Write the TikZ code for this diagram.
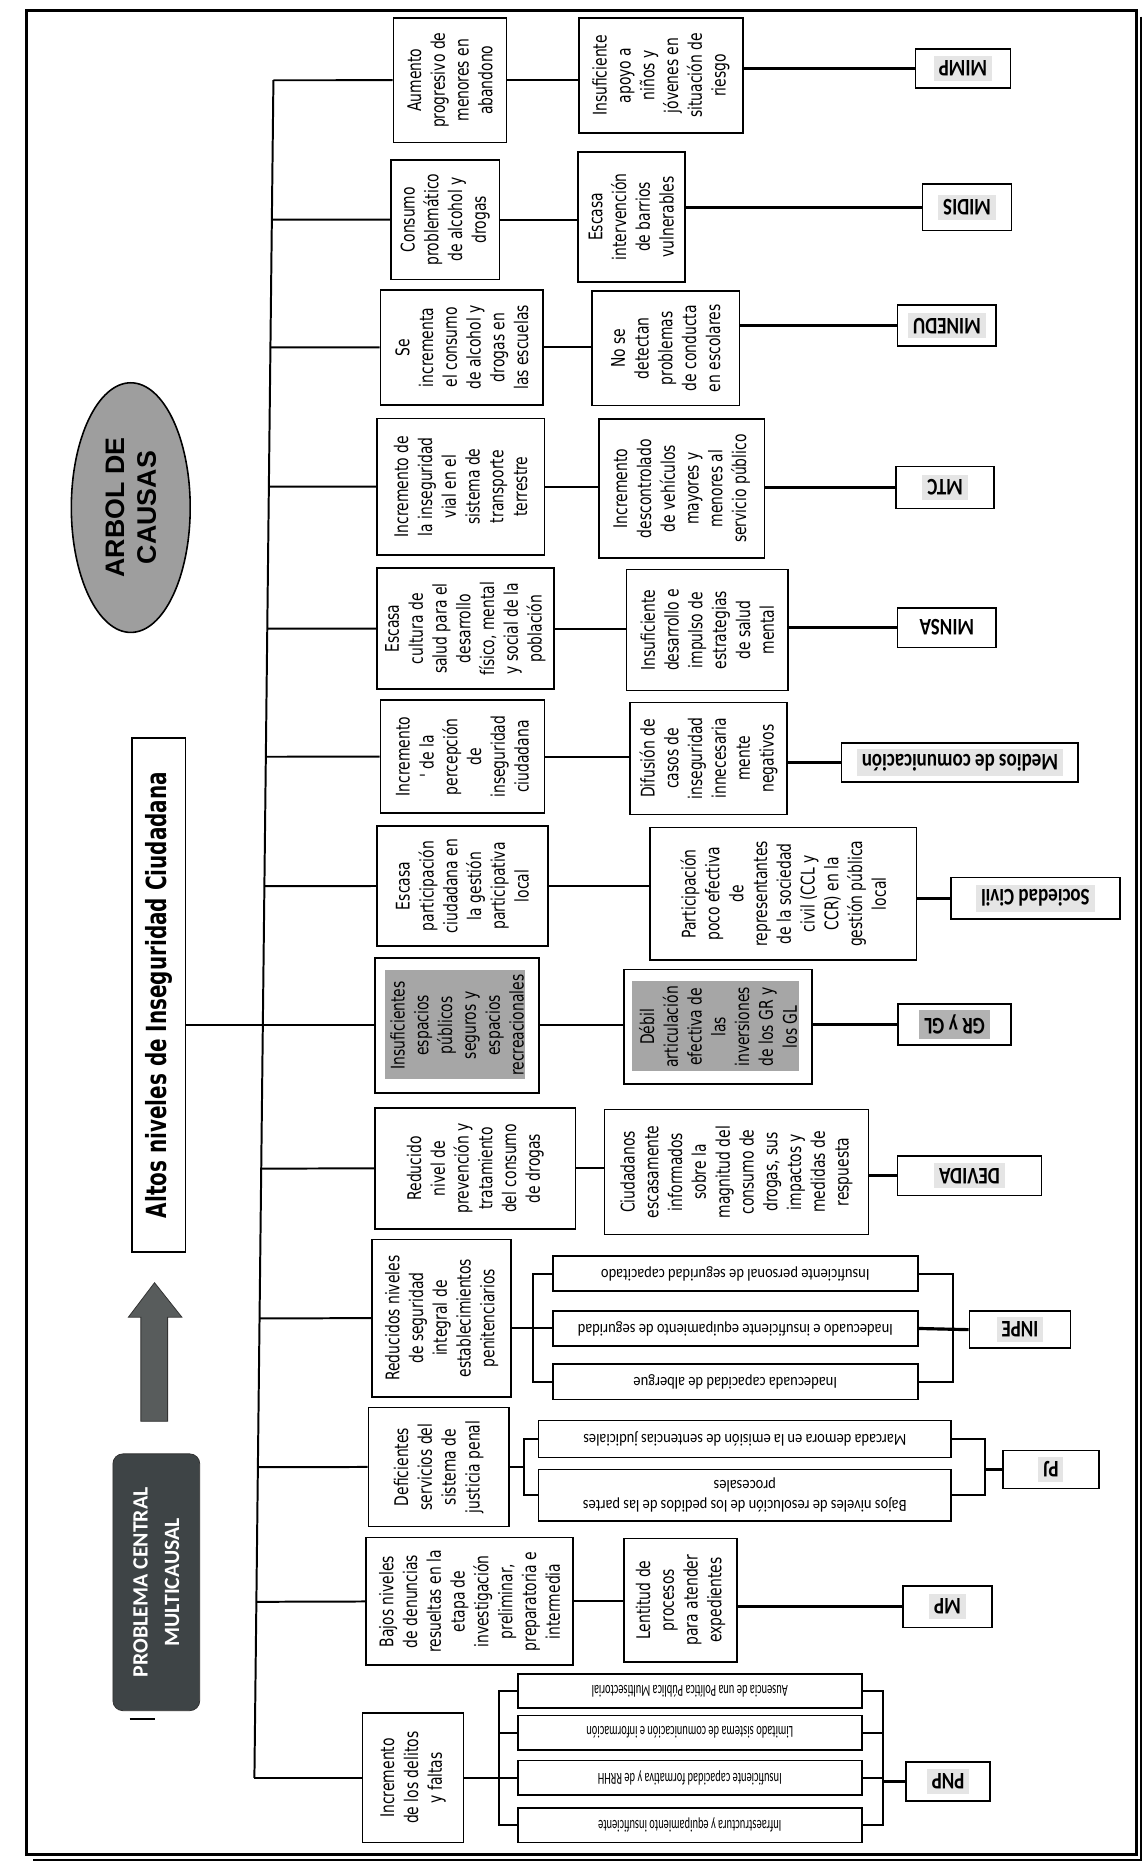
\documentclass[tikz,border=0pt]{standalone}
\usepackage{fontspec}
\setmainfont{DejaVu Sans}
\newfontfamily\boxfont{DejaVu Sans}[FakeStretch=0.74]
\newfontfamily\titlefont{DejaVu Sans}[FakeStretch=0.72]
\newfontfamily\tagfont{Carlito}[FakeStretch=0.8]
\newfontfamily\subfont{Carlito}[FakeStretch=0.86]
\newfontfamily\subfontn{Carlito}[FakeStretch=0.62]
\newfontfamily\arbolfont{Liberation Sans}
\newfontfamily\probfont{Carlito}
\usetikzlibrary{shapes.geometric}
\definecolor{probfill}{RGB}{62,68,70}
\definecolor{arrowfill}{RGB}{88,92,92}
\newcommand{\tagpatch}[2][black!10]{{\fboxsep=2.5pt\colorbox{#1}{#2}}}

\begin{document}
\begin{tikzpicture}[
	x=0.6pt, y=-0.6pt,
	cause/.style={ draw, line width=0.8pt, rotate=90, align=center, inner sep=1pt, font=\boxfont\fontsize{9.5}{12}\selectfont },
	vsz/.style 2 args={ minimum height=#1*0.6pt, minimum width=#2*0.6pt },
	hsz/.style 2 args={ minimum width=#1*0.6pt, minimum height=#2*0.6pt },
	tag/.style={ draw, line width=0.8pt, rotate=180, inner sep=1pt, font=\tagfont\bfseries\fontsize{12}{14}\selectfont },
	sub/.style={ draw, line width=0.8pt, rotate=180, align=center, inner sep=1pt, font=\subfont\fontsize{8.5}{10}\selectfont },
	subn/.style={ sub, font=\subfontn\fontsize{8.5}{10}\selectfont },
	link/.style={ line width=1pt },
	tagl/.style={ line width=1.6pt }
]
\useasboundingbox (0,0) rectangle (961,1568);

\draw[line width=1.6pt] (22,9) rectangle (956,1560);
\draw[line width=1pt] (960,14) -- (960,1565) -- (28,1565);

\node at (110,427) (arbol) [ellipse, draw, line width=0.8pt, fill=black!38, rotate=90, minimum width=210*0.6pt, minimum height=100*0.6pt, inner sep=0pt, align=center, font=\arbolfont\bfseries\fontsize{13.5}{16}\selectfont] {ARBOL DE\\CAUSAS};

\node at (133.5,837) (altos) [draw, line width=0.8pt, rotate=90, vsz={45}{432}, inner sep=1pt, font=\titlefont\bfseries\fontsize{14}{16}\selectfont] {Altos niveles de Inseguridad Ciudadana};

\fill[arrowfill, draw=black!80] (130,1079) -- (153,1108) -- (141,1108) -- (141,1195.6) -- (118.5,1195.6) -- (118.5,1108) -- (108,1108) -- cycle;

\node at (131.5,1331) (problema) [fill=probfill, draw=black!80, rounded corners=5pt, rotate=90, vsz={73}{216}, align=center, text=white, font=\probfont\bfseries\fontsize{11}{16}\selectfont] {PROBLEMA CENTRAL\\MULTICAUSAL};
\draw[line width=1.5pt] (109,1446) -- (130,1446);

\coordinate (ttop) at (230,67.5);
\coordinate (tbot) at (214,1495.5);
\draw[link] (ttop) to (tbot);

\node at (378.5,67.5) (r1a) [cause,vsz={95}{105}] {Aumento\\progresivo de\\menores en\\abandono};
\node at (556,63.5) (r1b) [cause,vsz={138}{97}] {Insuficiente\\apoyo a\\niños y\\jóvenes en\\situación de\\riesgo};
\node at (810,57.5) (mimp) [tag,hsz={80}{33}] {\tagpatch{MIMP}};
\draw[link] (r1a.north) to (intersection of ttop--tbot and r1a.north--r1a.center);
\draw[link] (r1a.south) to (r1a.south -| r1b.north);
\draw[tagl] (mimp.east) to (mimp.east -| r1b.south);

\node at (374.5,184.75) (r2a) [cause,vsz={91}{100.5}] {Consumo\\problemático\\de alcohol y\\drogas};
\node at (531,182.5) (r2b) [cause,vsz={90}{109}] {Escasa\\intervención\\de barrios\\vulnerables};
\node at (813.5,174.5) (midis) [tag,hsz={75}{39}] {\tagpatch{MIDIS}};
\draw[link] (r2a.north) to (intersection of ttop--tbot and r2a.north--r2a.center);
\draw[link] (r2a.south) to (r2a.south -| r2b.north);
\draw[tagl] (midis.east) to (midis.east -| r2b.south);

\node at (388.5,292.25) (r3a) [cause,vsz={137}{96.5}] {Se\\incrementa\\el consumo\\de alcohol y\\drogas en\\las escuelas};
\node at (560,293) (r3b) [cause,vsz={124}{96}] {No se\\detectan\\problemas\\de conducta\\en escolares};
\node at (796.5,274) (minedu) [tag,hsz={83}{34.5}] {\tagpatch{MINEDU}};
\draw[link] (r3a.north) to (intersection of ttop--tbot and r3a.north--r3a.center);
\draw[link] (r3a.south) to (r3a.south -| r3b.north);
\draw[tagl] (minedu.east) to (minedu.east -| r3b.south);

\node at (387.5,409.35) (r4a) [cause,vsz={141}{114.7}] {Incremento de\\la inseguridad\\vial en el\\sistema de\\transporte\\terrestre};
\node at (573.5,411) (r4b) [cause,vsz={139}{117}] {Incremento\\descontrolado\\de vehículos\\mayores y\\menores al\\servicio público};
\node at (795,410) (mtc) [tag,hsz={82.5}{35.5}] {\tagpatch{MTC}};
\draw[link] (r4a.north) to (intersection of ttop--tbot and r4a.north--r4a.center);
\draw[link] (r4a.south) to (r4a.south -| r4b.north);
\draw[tagl] (mtc.east) to (mtc.east -| r4b.south);

\node at (391.5,528.85) (r5a) [cause,vsz={149}{101.7}] {Escasa\\cultura de\\salud para el\\desarrollo\\físico, mental\\y social de la\\población};
\node at (595,530) (r5b) [cause,vsz={136}{102}] {Insuficiente\\desarrollo e\\impulso de\\estrategias\\de salud\\mental};
\node at (796.5,528) (minsa) [tag,hsz={83}{33.5}] {MINSA};
\draw[link] (r5a.north) to (intersection of ttop--tbot and r5a.north--r5a.center);
\draw[link] (r5a.south) to (r5a.south -| r5b.north);
\draw[tagl] (minsa.east) to (minsa.east -| r5b.south);

\node at (389,636.5) (r6a) [cause,vsz={138}{95}] {Incremento\\' de la\\percepción\\de\\inseguridad\\ciudadana};
\node at (596,638) (r6b) [cause,vsz={132}{94}] {Difusión de\\casos de\\inseguridad\\innecesaria\\mente\\negativos};
\node at (807.5,641.5) (medios) [tag,hsz={199}{33}] {\tagpatch{Medios de comunicación}};
\draw[link] (r6a.north) to (intersection of ttop--tbot and r6a.north--r6a.center);
\draw[link] (r6a.south) to (r6a.south -| r6b.north);
\draw[tagl] (medios.east) to (medios.east -| r6b.south);

\node at (389,745.3) (r7a) [cause,vsz={144}{101.4}] {Escasa\\participación\\ciudadana en\\la gestión\\participativa\\local};
\node at (659,751.85) (r7b) [cause,vsz={224}{111.7}] {Participación\\poco efectiva\\de\\representantes\\de la sociedad\\civil (CCL y\\CCR) en la\\gestión pública\\local};
\node at (871,755.5) (soccivil) [tag,hsz={142.5}{35}] {\tagpatch{Sociedad Civil}};
\draw[link] (r7a.north) to (intersection of ttop--tbot and r7a.north--r7a.center);
\draw[link] (r7a.south) to (r7a.south -| r7b.north);
\draw[tagl] (soccivil.east) to (soccivil.east -| r7b.south);

\fill[black!35] (323.5,815.6) rectangle (442,908);
\fill[black!35] (532,825.4) rectangle (672,901);
\node at (384.5,862.5) (r8a) [cause,vsz={138}{113.5}] {Insuficientes\\espacios\\públicos\\seguros y\\espacios\\recreacionales};
\node at (604,863.8) (r8b) [cause,vsz={158}{96.4}] {Débil\\articulación\\efectiva de\\las\\inversiones\\de los GR y\\los GL};
\node at (803,862) (grgl) [tag,hsz={95}{34.5}] {\tagpatch[black!30]{GR y GL}};
\draw[link] (altos.south |- r8a.north) to (r8a.north);
\draw[link] (r8a.south) to (r8a.south -| r8b.north);
\draw[tagl] (grgl.east) to (grgl.east -| r8b.south);

\node at (399.8,982.85) (r9a) [cause,vsz={168.4}{101.7}] {Reducido\\nivel de\\prevención y\\tratamiento\\del consumo\\de drogas};
\node at (619.5,985.85) (r9b) [cause,vsz={222}{105}] {Ciudadanos\\escasamente\\informados\\sobre la\\magnitud del\\consumo de\\drogas, sus\\impactos y\\medidas de\\respuesta};
\node at (815.5,989) (devida) [tag,hsz={121}{33}] {\tagpatch{DEVIDA}};
\draw[link] (r9a.north) to (intersection of ttop--tbot and r9a.north--r9a.center);
\draw[link] (r9a.south) to (r9a.south -| r9b.north);
\draw[tagl] (devida.east) to (devida.east -| r9b.south);

\node at (371.5,1108.8) (r10) [cause,vsz={117}{132.4}] {Reducidos niveles\\de seguridad\\integral de\\establecimientos\\penitenciarios};
\node at (618.5,1071.3) (r10a) [sub,hsz={307}{29.5}] {Insuficiente personal de seguridad capacitado};
\node at (618.5,1117.5) (r10b) [sub,hsz={307}{29.5}] {Inadecuado e insuficiente equipamiento de seguridad};
\node at (618.5,1162.35) (r10c) [sub,hsz={307}{29.5}] {Inadecuada capacidad de albergue};
\node at (858,1118.5) (inpe) [tag,hsz={85}{31}] {\tagpatch{INPE}};
\coordinate (r10l) at (448,1117.5);
\coordinate (r10r) at (802,1117.5);
\draw[link] (r10.north) to (intersection of ttop--tbot and r10.north--r10.center);
\draw[link] (r10.south |- r10b.east) to (r10b.east);
\draw[link] (r10a.east) -- (r10a.east -| r10l) -- (r10c.east -| r10l) -- (r10c.east);
\draw[link] (r10a.west) -- (r10a.west -| r10r) -- (r10c.west -| r10r) -- (r10c.west);
\draw[tagl] (r10b.west) to (inpe.east);

\node at (369,1234) (r11) [cause,vsz={118}{100}] {Deficientes\\servicios del\\sistema de\\justicia penal};
\node at (626.5,1210.5) (r11a) [sub,hsz={347}{31}] {Marcada demora en la emisión de sentencias judiciales};
\node at (626.5,1257.75) (r11b) [sub,hsz={347}{43.5}] {Bajos niveles de resolución de los pedidos de las partes\\procesales};
\node at (884,1236) (pj) [tag,hsz={81}{32}] {\tagpatch{PJ}};
\coordinate (r11l) at (440.6,1234);
\coordinate (r11r) at (828.7,1234);
\draw[link] (r11.north) to (intersection of ttop--tbot and r11.north--r11.center);
\draw[link] (r11.south) to (r11.south -| r11l);
\draw[link] (r11a.east) -- (r11a.east -| r11l) -- (r11b.east -| r11l) -- (r11b.east);
\draw[link] (r11a.west) -- (r11a.west -| r11r) -- (r11b.west -| r11r) -- (r11b.west);
\draw[tagl] (pj.east) to (pj.east -| r11r);

\node at (395,1347.15) (r12a) [cause,vsz={174}{107.3}] {Bajos niveles\\de denuncias\\resueltas en la\\etapa de\\investigación\\preliminar,\\preparatoria e\\intermedia};
\node at (572.5,1346) (r12b) [cause,vsz={95}{104}] {Lentitud de\\procesos\\para atender\\expedientes};
\node at (797,1351.5) (mp) [tag,hsz={75}{35}] {\tagpatch{MP}};
\draw[link] (r12a.north) to (intersection of ttop--tbot and r12a.north--r12a.center);
\draw[link] (r12a.south) to (r12a.south -| r12b.north);
\draw[tagl] (mp.east) to (mp.east -| r12b.south);

\node at (347.5,1495.5) (r13) [cause,vsz={85}{109}] {Incremento\\de los delitos\\y faltas};
\node at (580.25,1422.5) (r13a) [subn,hsz={289.5}{29}] {Ausencia de una Política Pública Multisectorial};
\node at (580.25,1457.5) (r13b) [subn,hsz={289.5}{29}] {Limitado sistema de comunicación e información};
\node at (580.25,1495.5) (r13c) [subn,hsz={289.5}{29}] {Insuficiente capacidad formativa y de RRHH};
\node at (580.25,1535.5) (r13d) [subn,hsz={289.5}{29}] {Infraestructura y equipamiento insuficiente};
\node at (797.5,1498.5) (pnp) [tag,hsz={71}{33}] {\tagpatch{PNP}};
\coordinate (r13l) at (420,1495.5);
\coordinate (r13r) at (743,1495.5);
\draw[link] (r13.north) to (tbot);
\draw[link] (r13.south) to (r13c.east);
\draw[link] (r13a.east) -- (r13a.east -| r13l) -- (r13d.east -| r13l) -- (r13d.east);
\foreach \s in {r13b} \draw[link] (\s.east) to (\s.east -| r13l);
\draw[link] (r13a.west) -- (r13a.west -| r13r) -- (r13d.west -| r13r) -- (r13d.west);
\foreach \s in {r13b,r13c} \draw[link] (\s.west) to (\s.west -| r13r);
\draw[tagl] (pnp.east) to (pnp.east -| r13r);

\end{tikzpicture}
\end{document}
